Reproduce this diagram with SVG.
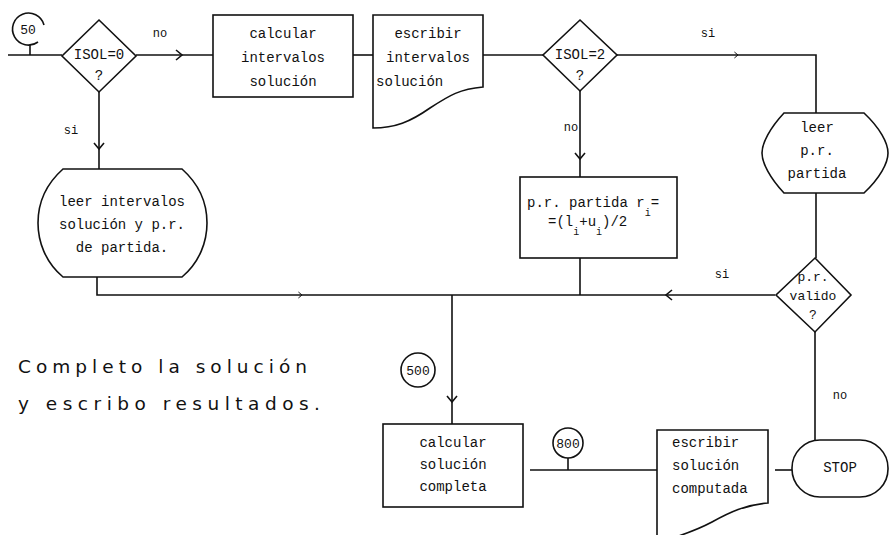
<svg xmlns="http://www.w3.org/2000/svg" width="890" height="535" viewBox="0 0 890 535">
<style>
.s{fill:none;stroke:#111;stroke-width:1.6}
.n{fill:#fff;stroke:#111;stroke-width:1.6}
.t{font-family:"Liberation Mono","DejaVu Sans Mono",monospace;font-size:14px;fill:#111;text-anchor:middle}
.l{font-family:"Liberation Mono","DejaVu Sans Mono",monospace;font-size:12px;fill:#111;text-anchor:middle}
.a{font-family:"DejaVu Sans","Liberation Sans",sans-serif;font-size:18.5px;fill:#111}
</style>
<defs>
<path id="chev" d="M-6,-5 L0,0 L-6,5" fill="none" stroke="#111" stroke-width="1.6"/>
</defs>
<rect width="890" height="535" fill="#fff"/>
<g id="connectors">
<path class="s" d="M8,55 H62"/>
<path class="s" d="M136,55 H213"/>
<path class="s" d="M353,55 H373"/>
<path class="s" d="M483,55 H543"/>
<path class="s" d="M617,55 H816 V113"/>
<path class="s" d="M816,193 V258"/>
<path class="s" d="M99,92 V169"/>
<path class="s" d="M97,277 V295 H775"/>
<path class="s" d="M580,91 V177"/>
<path class="s" d="M580,258 V295"/>
<path class="s" d="M452,295 V424"/>
<path class="s" d="M815,332 V440"/>
<path class="s" d="M530,470 H657"/>
<path class="s" d="M775,470 H792"/>
<use href="#chev" transform="translate(182,55)"/>
<use href="#chev" transform="translate(738,55) scale(0.6)"/>
<use href="#chev" transform="translate(99,149) rotate(90)"/>
<use href="#chev" transform="translate(580,159) rotate(90)"/>
<use href="#chev" transform="translate(666,295) rotate(180)"/>
<use href="#chev" transform="translate(302,295) scale(0.6)"/>
<use href="#chev" transform="translate(452,402) rotate(90)"/>
<text class="l" x="160" y="37">no</text>
<text class="l" x="71" y="134">si</text>
<text class="l" x="571" y="131">no</text>
<text class="l" x="708" y="37">si</text>
<text class="l" x="722" y="278">si</text>
<text class="l" x="840" y="399">no</text>
</g>
<g id="c50">
<path class="s" d="M44,25 A16,16 0 1 0 38,42"/>
<path class="s" d="M30,45 V55"/>
<text class="t" x="28" y="34" style="font-size:13px">50</text>
</g>
<g id="d1">
<polygon class="n" points="99,20 136,56 99,92 62,56"/>
<text class="t" x="99" y="59">ISOL=0</text>
<text class="t" x="99" y="80">?</text>
</g>
<g id="b1">
<rect class="n" x="213" y="15" width="140" height="82"/>
<text class="t" x="283" y="38">calcular</text>
<text class="t" x="283" y="62">intervalos</text>
<text class="t" x="283" y="86">solución</text>
</g>
<g id="doc1">
<path class="n" d="M373,15 H483 V87 C460,89 450,95 430,108 C410,122 395,128 373,128 Z"/>
<text class="t" x="428" y="38">escribir</text>
<text class="t" x="428" y="62">intervalos</text>
<text class="t" x="376" y="86" style="text-anchor:start">solución</text>
</g>
<g id="d2">
<polygon class="n" points="580,20 617,55 580,91 543,55"/>
<text class="t" x="580" y="59">ISOL=2</text>
<text class="t" x="580" y="80">?</text>
</g>
<g id="leer2">
<path class="n" d="M784,113 H864 C880,128 888,143 888,153 C888,163 880,178 864,193 H784 C770,178 762,163 762,153 C762,143 770,128 784,113 Z"/>
<text class="t" x="817" y="132">leer</text>
<text class="t" x="817" y="155">p.r.</text>
<text class="t" x="817" y="178">partida</text>
</g>
<g id="leer1">
<path class="n" d="M63,169 H182 C200,185 207,205 207,223 C207,241 200,262 182,277 H63 C45,262 38,241 38,223 C38,205 45,185 63,169 Z"/>
<text class="t" x="122" y="206">leer intervalos</text>
<text class="t" x="122" y="229">solución y p.r.</text>
<text class="t" x="122" y="252">de partida.</text>
</g>
<g id="b2">
<rect class="n" x="520" y="177" width="157" height="81"/>
<text class="t" x="527" y="207" style="text-anchor:start">p.r. partida r<tspan dy="9" style="font-size:10px">i</tspan><tspan dy="-9">=</tspan></text>
<text class="t" x="548" y="226" style="text-anchor:start">=(l<tspan dy="9" style="font-size:10px">i</tspan><tspan dy="-9">+u</tspan><tspan dy="9" style="font-size:10px">i</tspan><tspan dy="-9">)/2</tspan></text>
</g>
<g id="d3">
<polygon class="n" points="815,258 851,295 815,332 776,295"/>
<text class="t" x="813" y="281" style="font-size:13px">p.r.</text>
<text class="t" x="813" y="300" style="font-size:13px">valido</text>
<text class="t" x="813" y="319" style="font-size:13px">?</text>
</g>
<g id="note">
<text class="a" x="18" y="373" textLength="289" lengthAdjust="spacing">Completo la solución</text>
<text class="a" x="18" y="410" textLength="302" lengthAdjust="spacing">y escribo resultados.</text>
</g>
<g id="c500">
<circle class="n" cx="418" cy="370" r="17"/>
<text class="t" x="418" y="375" style="font-size:13px">500</text>
</g>
<g id="b3">
<rect class="n" x="383" y="424" width="140" height="83"/>
<text class="t" x="453" y="447">calcular</text>
<text class="t" x="453" y="469">solución</text>
<text class="t" x="453" y="491">completa</text>
</g>
<g id="c800">
<circle class="n" cx="568" cy="443" r="15"/>
<path class="s" d="M568,458 V470"/>
<text class="t" x="568" y="448" style="font-size:13px">800</text>
</g>
<g id="doc2">
<path class="n" d="M657,545 V430 H768 V503 C745,505 730,512 712,522 C697,530 680,536 660,542"/>
<text class="t" x="672" y="447" style="text-anchor:start">escribir</text>
<text class="t" x="672" y="470" style="text-anchor:start">solución</text>
<text class="t" x="672" y="493" style="text-anchor:start">computada</text>
</g>
<g id="stop">
<rect class="n" x="792" y="440" width="96" height="57" rx="28"/>
<text class="t" x="840" y="472">STOP</text>
</g>
</svg>
